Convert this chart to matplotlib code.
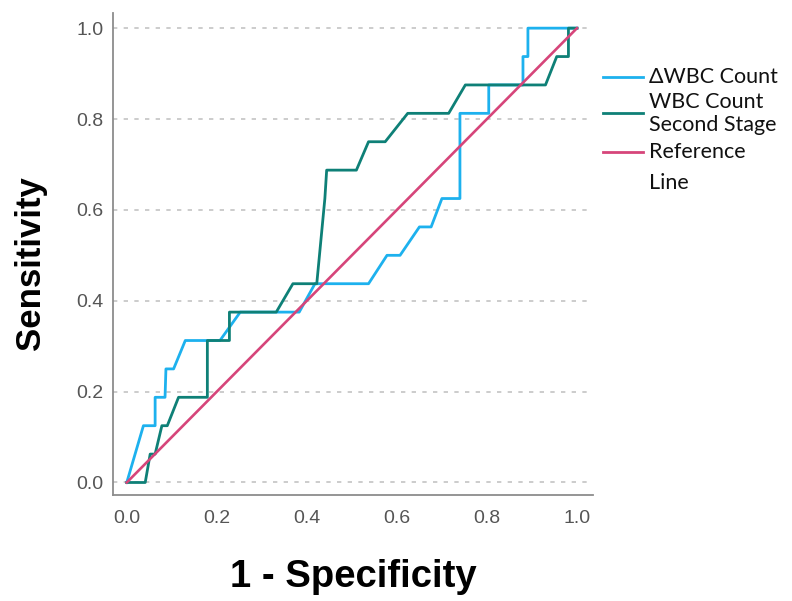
import matplotlib
matplotlib.use("Agg")
import matplotlib.pyplot as plt
from matplotlib.lines import Line2D

# ROC curve data (1 - specificity, sensitivity)
delta_wbc_fpr = [0.0, 0.037, 0.063, 0.063, 0.085, 0.087, 0.104, 0.13, 0.207, 0.252,
                 0.383, 0.418, 0.537, 0.578, 0.607, 0.650, 0.676, 0.700, 0.740, 0.740,
                 0.804, 0.804, 0.880, 0.880, 0.891, 0.891, 1.0]
delta_wbc_tpr = [0.0, 0.125, 0.125, 0.1875, 0.1875, 0.25, 0.25, 0.3125, 0.3125, 0.375,
                 0.375, 0.4375, 0.4375, 0.5, 0.5, 0.5625, 0.5625, 0.625, 0.625, 0.8125,
                 0.8125, 0.875, 0.875, 0.9375, 0.9375, 1.0, 1.0]

second_fpr = [0.0, 0.041, 0.052, 0.063, 0.078, 0.09, 0.115, 0.179, 0.179, 0.228,
              0.228, 0.332, 0.369, 0.422, 0.44, 0.444, 0.51, 0.537, 0.574, 0.624,
              0.715, 0.752, 0.93, 0.955, 0.981, 0.981, 1.0]
second_tpr = [0.0, 0.0, 0.0625, 0.0625, 0.125, 0.125, 0.1875, 0.1875, 0.3125, 0.3125,
              0.375, 0.375, 0.4375, 0.4375, 0.625, 0.6875, 0.6875, 0.75, 0.75, 0.8125,
              0.8125, 0.875, 0.875, 0.9375, 0.9375, 1.0, 1.0]

ref_x = [0.0, 1.0]
ref_y = [0.0, 1.0]

ticks = [0.0, 0.2, 0.4, 0.6, 0.8, 1.0]
tick_labels = ["0.0", "0.2", "0.4", "0.6", "0.8", "1.0"]
legend_labels = ["\u0394WBC Count", "WBC Count\nSecond Stage", "Reference\nLine"]

c_blue = "#1DB1EE"
c_green = "#0E8077"
c_ref = "#D6457A"

fig = plt.figure(figsize=(7.92, 6.01), dpi=100)
ax = fig.add_axes([0.143, 0.1764, 0.606, 0.8017])

ax.plot(delta_wbc_fpr, delta_wbc_tpr, color=c_blue, lw=2.0, zorder=3)
ax.plot(second_fpr, second_tpr, color=c_green, lw=2.0, zorder=3)
ax.plot(ref_x, ref_y, color=c_ref, lw=1.9, zorder=4)

ax.set_xlim(-0.03, 1.036)
ax.set_ylim(-0.0275, 1.033)
ax.set_xticks(ticks)
ax.set_xticklabels(tick_labels)
ax.set_yticks(ticks)
ax.set_yticklabels(tick_labels)
ax.tick_params(axis="both", length=0, labelsize=14, labelcolor="#555555")
ax.tick_params(axis="x", pad=11)
ax.tick_params(axis="y", pad=7)
for lab in ax.get_xticklabels() + ax.get_yticklabels():
    lab.set_family("Liberation Sans")

ax.yaxis.grid(True, color="#C4C4C4", lw=1.2, linestyle=(0, (2.6, 3.8)))
ax.set_axisbelow(True)
for s in ["top", "right"]:
    ax.spines[s].set_visible(False)
for s in ["left", "bottom"]:
    ax.spines[s].set_color("#8C8C8C")
    ax.spines[s].set_linewidth(1.3)

fig.text(31 / 792, 1 - 263 / 601, "Sensitivity", rotation=90, ha="center", va="center",
         fontsize=25, fontweight="bold", family="Liberation Sans")
fig.text(353 / 792, 1 - 577 / 601, "1 - Specificity", ha="center", va="center",
         fontsize=27.5, fontweight="bold", family="Liberation Sans")

# legend (drawn outside the axes)
W, H = 792, 601
handles_y = [76.7, 113.3, 151.7]
text_y = [[76.7], [101.7, 125.0], [151.7, 183.3]]
colors = [c_blue, c_green, c_ref]
for hy, ty, col, lbl in zip(handles_y, text_y, colors, legend_labels):
    fig.add_artist(Line2D([603 / W, 643 / W], [1 - hy / H, 1 - hy / H], color=col, lw=2.0,
                          transform=fig.transFigure))
    for line, yy in zip(lbl.split("\n"), ty):
        fig.text(649 / W, 1 - yy / H, line, ha="left", va="center", fontsize=15.5,
                 family=["Lato", "DejaVu Sans"], color="#111111")

fig.savefig("out.png", dpi=100)
